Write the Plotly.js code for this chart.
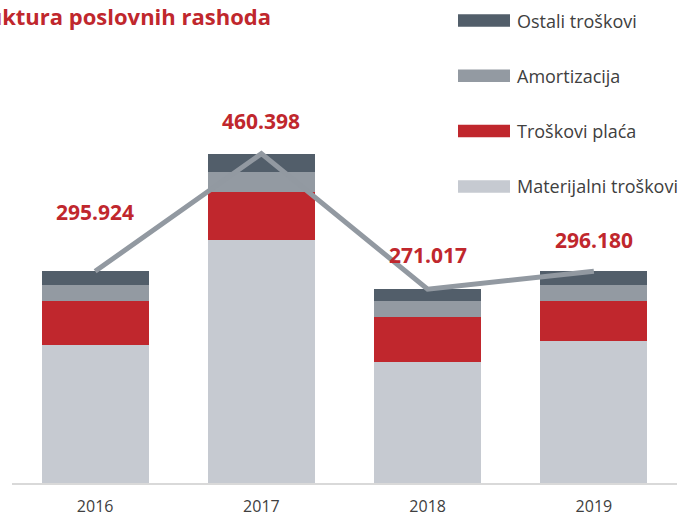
<!DOCTYPE html>
<html>
<head>
<meta charset="utf-8">
<script src="https://cdn.plot.ly/plotly-3.0.1.min.js"></script>
<style>html,body{margin:0;padding:0;background:#fff;}#chart{width:692px;height:516px;}</style>
</head>
<body>
<div id="chart"></div>
<script>
// ---- data ----
const years = ['2016', '2017', '2018', '2019'];
const materijalniTroskovi = [192.9, 340.1, 169.6, 198.5];
const troskoviPlaca = [61.9, 66.7, 62.5, 56.3];
const amortizacija = [21.9, 28.0, 22.4, 21.9];
const ostaliTroskovi = [19.2, 25.6, 16.6, 19.4];
const ukupno = [295.924, 460.398, 271.017, 296.180];
const seriesNames = ['Materijalni troškovi', 'Troškovi plaća', 'Amortizacija', 'Ostali troškovi'];
const chartTitle = 'Struktura poslovnih rashoda';

// ---- styles ----
const colors = ['#c6cad1', '#c0272d', '#939aa2', '#525e6a'];
const lineColor = '#9299a1';
const red = '#c0272d';
const textColor = '#404040';
const W = 692, H = 516;
const margin = {l: 12, r: 15, t: 40, b: 33};
const plotW = W - margin.l - margin.r, plotH = H - margin.t - margin.b;
const px2x = p => (p - margin.l) / plotW;
const px2y = p => (H - margin.b - p) / plotH;

const seriesValues = [materijalniTroskovi, troskoviPlaca, amortizacija, ostaliTroskovi];
const traces = seriesValues.map((vals, i) => ({
  type: 'bar', x: years, y: vals, name: seriesNames[i],
  marker: {color: colors[i], line: {width: 0}},
  hoverinfo: 'skip', showlegend: false
}));
traces.push({
  type: 'scatter', mode: 'lines', x: years, y: ukupno, name: 'Ukupno',
  line: {color: lineColor, width: 5}, hoverinfo: 'skip', showlegend: false
});

const labelShift = [59, 33, 34, 31];
const annotations = ukupno.map((v, i) => ({
  x: i, y: v, xref: 'x', yref: 'y',
  text: '<b>' + v.toFixed(3) + '</b>', showarrow: false, yanchor: 'middle', yshift: labelShift[i],
  font: {family: 'Open Sans', size: 21, color: red}
}));

// manual legend (wide swatches), top to bottom: reversed stack order
const shapes = [];
const legendRowsY = [20.5, 75.8, 131, 186.5];
for (let k = 0; k < 4; k++) {
  const si = 3 - k;
  const cy = legendRowsY[k];
  shapes.push({type: 'rect', xref: 'paper', yref: 'paper',
    x0: px2x(458), x1: px2x(510), y0: px2y(cy - 6.3), y1: px2y(cy + 6.3),
    fillcolor: colors[si], line: {width: 0}});
  annotations.push({xref: 'paper', yref: 'paper', x: px2x(515), y: px2y(cy),
    xanchor: 'left', yanchor: 'middle', showarrow: false, text: seriesNames[si],
    font: {family: 'Open Sans', size: 18, color: textColor}});
}

const layout = {
  width: W, height: H, margin: margin,
  paper_bgcolor: '#fff', plot_bgcolor: '#fff',
  barmode: 'stack', bargap: 0.357, showlegend: false,
  title: {text: '<b>' + chartTitle + '</b>', xref: 'container', yref: 'container',
    x: 271 / W, xanchor: 'right', y: 1 - 17 / H, yanchor: 'middle',
    font: {family: 'Open Sans', size: 22, color: red}},
  xaxis: {type: 'category', range: [-0.5, 3.5], showline: true, linecolor: '#d9d9d9', linewidth: 1.5,
    showgrid: false, zeroline: false, ticks: '', ticklabelstandoff: 8,
    tickfont: {family: 'Open Sans', size: 16, color: textColor}, fixedrange: true},
  yaxis: {range: [0, plotH * 1.398], visible: false, showgrid: false, zeroline: false, fixedrange: true},
  shapes: shapes, annotations: annotations
};

Plotly.newPlot('chart', traces, layout, {staticPlot: true, displayModeBar: false});
</script>
</body>
</html>
